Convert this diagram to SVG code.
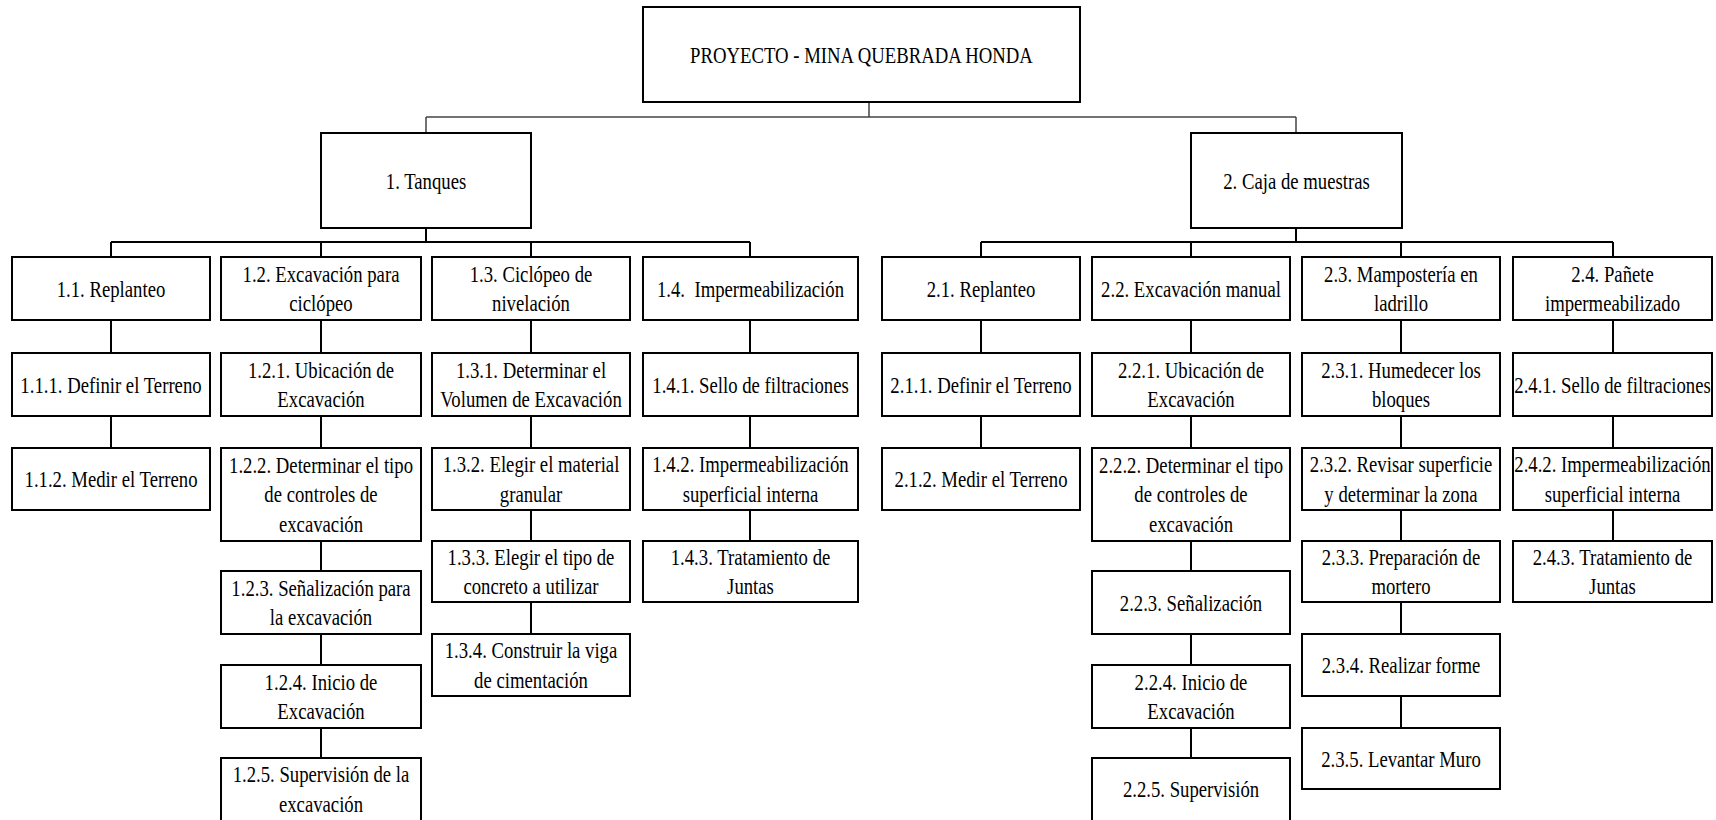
<svg xmlns="http://www.w3.org/2000/svg" width="1716" height="820" viewBox="0 0 1716 820">
  <style>
    .box { fill: #fff; stroke: #000; stroke-width: 2; }
    .lbl { font-family: "Liberation Serif", "Times New Roman", serif; font-size: 24px; fill: #000; text-anchor: middle; }
    .wire { stroke: #000; stroke-width: 2; fill: none; }
    .bus { stroke: #444; stroke-width: 1.5; fill: none; }
  </style>
  <rect width="1716" height="820" fill="#fff"/>

  <!-- connectors -->
  <g id="connectors">
    <path class="bus" d="M869 102V117 M426 117H1296 M426 117V133 M1296 117V133"/>
    <!-- 1. Tanques branch -->
    <path class="wire" d="M426 228V242 M111 242H750 M111 242V257 M321 242V257 M531 242V257 M750 242V257"/>
    <!-- 2. Caja de muestras branch -->
    <path class="wire" d="M1296 228V242 M981 242H1613 M981 242V257 M1191 242V257 M1401 242V257 M1613 242V257"/>
    <!-- column 1.1 -->
    <path class="wire" d="M111 320V353 M111 416V448"/>
    <!-- column 1.2 -->
    <path class="wire" d="M321 320V353 M321 416V448 M321 541V571 M321 634V665 M321 728V758"/>
    <!-- column 1.3 -->
    <path class="wire" d="M531 320V353 M531 416V448 M531 510V541 M531 602V634"/>
    <!-- column 1.4 -->
    <path class="wire" d="M750 320V353 M750 416V448 M750 510V541"/>
    <!-- column 2.1 -->
    <path class="wire" d="M981 320V353 M981 416V448"/>
    <!-- column 2.2 -->
    <path class="wire" d="M1191 320V353 M1191 416V448 M1191 541V571 M1191 634V665 M1191 728V758"/>
    <!-- column 2.3 -->
    <path class="wire" d="M1401 320V353 M1401 416V448 M1401 510V541 M1401 602V634 M1401 696V728"/>
    <!-- column 2.4 -->
    <path class="wire" d="M1613 320V353 M1613 416V448 M1613 510V541"/>
  </g>

  <!-- root -->
  <g id="n-root">
    <rect class="box" x="643" y="7" width="437" height="95"/>
    <text class="lbl" transform="translate(861.5,63) scale(0.78,1)">PROYECTO - MINA QUEBRADA HONDA</text>
  </g>

  <!-- level 1 -->
  <g id="n-1">
    <rect class="box" x="321" y="133" width="210" height="95"/>
    <text class="lbl" transform="translate(426,188.5) scale(0.78,1)">1. Tanques</text>
  </g>
  <g id="n-2">
    <rect class="box" x="1191" y="133" width="211" height="95"/>
    <text class="lbl" transform="translate(1296.5,188.5) scale(0.78,1)">2. Caja de muestras</text>
  </g>

  <!-- 1.1 Replanteo -->
  <g id="n-1-1">
    <rect class="box" x="12" y="257" width="198" height="63"/>
    <text class="lbl" transform="translate(111,296.5) scale(0.78,1)">1.1. Replanteo</text>
  </g>
  <g id="n-1-1-1">
    <rect class="box" x="12" y="353" width="198" height="63"/>
    <text class="lbl" transform="translate(111,392.5) scale(0.78,1)">1.1.1. Definir el Terreno</text>
  </g>
  <g id="n-1-1-2">
    <rect class="box" x="12" y="448" width="198" height="62"/>
    <text class="lbl" transform="translate(111,487) scale(0.78,1)">1.1.2. Medir el Terreno</text>
  </g>

  <!-- 1.2 Excavación para ciclópeo -->
  <g id="n-1-2">
    <rect class="box" x="221" y="257" width="200" height="63"/>
    <text class="lbl" transform="translate(321,281.5) scale(0.78,1)"><tspan x="0">1.2. Excavación para</tspan><tspan x="0" dy="30">ciclópeo</tspan></text>
  </g>
  <g id="n-1-2-1">
    <rect class="box" x="221" y="353" width="200" height="63"/>
    <text class="lbl" transform="translate(321,377.5) scale(0.78,1)"><tspan x="0">1.2.1. Ubicación de</tspan><tspan x="0" dy="30">Excavación</tspan></text>
  </g>
  <g id="n-1-2-2">
    <rect class="box" x="221" y="448" width="200" height="93"/>
    <text class="lbl" transform="translate(321,472.5) scale(0.78,1)"><tspan x="0">1.2.2. Determinar el tipo</tspan><tspan x="0" dy="30">de controles de</tspan><tspan x="0" dy="30">excavación</tspan></text>
  </g>
  <g id="n-1-2-3">
    <rect class="box" x="221" y="571" width="200" height="63"/>
    <text class="lbl" transform="translate(321,595.5) scale(0.78,1)"><tspan x="0">1.2.3. Señalización para</tspan><tspan x="0" dy="30">la excavación</tspan></text>
  </g>
  <g id="n-1-2-4">
    <rect class="box" x="221" y="665" width="200" height="63"/>
    <text class="lbl" transform="translate(321,689.5) scale(0.78,1)"><tspan x="0">1.2.4. Inicio de</tspan><tspan x="0" dy="30">Excavación</tspan></text>
  </g>
  <g id="n-1-2-5">
    <rect class="box" x="221" y="758" width="200" height="66"/>
    <text class="lbl" transform="translate(321,782) scale(0.78,1)"><tspan x="0">1.2.5. Supervisión de la</tspan><tspan x="0" dy="30">excavación</tspan></text>
  </g>

  <!-- 1.3 Ciclópeo de nivelación -->
  <g id="n-1-3">
    <rect class="box" x="432" y="257" width="198" height="63"/>
    <text class="lbl" transform="translate(531,281.5) scale(0.78,1)"><tspan x="0">1.3. Ciclópeo de</tspan><tspan x="0" dy="30">nivelación</tspan></text>
  </g>
  <g id="n-1-3-1">
    <rect class="box" x="432" y="353" width="198" height="63"/>
    <text class="lbl" transform="translate(531,377.5) scale(0.78,1)"><tspan x="0">1.3.1. Determinar el</tspan><tspan x="0" dy="30">Volumen de Excavación</tspan></text>
  </g>
  <g id="n-1-3-2">
    <rect class="box" x="432" y="448" width="198" height="62"/>
    <text class="lbl" transform="translate(531,472) scale(0.78,1)"><tspan x="0">1.3.2. Elegir el material</tspan><tspan x="0" dy="30">granular</tspan></text>
  </g>
  <g id="n-1-3-3">
    <rect class="box" x="432" y="541" width="198" height="61"/>
    <text class="lbl" transform="translate(531,564.5) scale(0.78,1)"><tspan x="0">1.3.3. Elegir el tipo de</tspan><tspan x="0" dy="30">concreto a utilizar</tspan></text>
  </g>
  <g id="n-1-3-4">
    <rect class="box" x="432" y="634" width="198" height="62"/>
    <text class="lbl" transform="translate(531,658) scale(0.78,1)"><tspan x="0">1.3.4. Construir la viga</tspan><tspan x="0" dy="30">de cimentación</tspan></text>
  </g>

  <!-- 1.4 Impermeabilización -->
  <g id="n-1-4">
    <rect class="box" x="643" y="257" width="215" height="63"/>
    <text class="lbl" xml:space="preserve" transform="translate(750.5,296.5) scale(0.78,1)">1.4.  Impermeabilización</text>
  </g>
  <g id="n-1-4-1">
    <rect class="box" x="643" y="353" width="215" height="63"/>
    <text class="lbl" transform="translate(750.5,392.5) scale(0.78,1)">1.4.1. Sello de filtraciones</text>
  </g>
  <g id="n-1-4-2">
    <rect class="box" x="643" y="448" width="215" height="62"/>
    <text class="lbl" transform="translate(750.5,472) scale(0.78,1)"><tspan x="0">1.4.2. Impermeabilización</tspan><tspan x="0" dy="30">superficial interna</tspan></text>
  </g>
  <g id="n-1-4-3">
    <rect class="box" x="643" y="541" width="215" height="61"/>
    <text class="lbl" transform="translate(750.5,564.5) scale(0.78,1)"><tspan x="0">1.4.3. Tratamiento de</tspan><tspan x="0" dy="30">Juntas</tspan></text>
  </g>

  <!-- 2.1 Replanteo -->
  <g id="n-2-1">
    <rect class="box" x="882" y="257" width="198" height="63"/>
    <text class="lbl" transform="translate(981,296.5) scale(0.78,1)">2.1. Replanteo</text>
  </g>
  <g id="n-2-1-1">
    <rect class="box" x="882" y="353" width="198" height="63"/>
    <text class="lbl" transform="translate(981,392.5) scale(0.78,1)">2.1.1. Definir el Terreno</text>
  </g>
  <g id="n-2-1-2">
    <rect class="box" x="882" y="448" width="198" height="62"/>
    <text class="lbl" transform="translate(981,487) scale(0.78,1)">2.1.2. Medir el Terreno</text>
  </g>

  <!-- 2.2 Excavación manual -->
  <g id="n-2-2">
    <rect class="box" x="1092" y="257" width="198" height="63"/>
    <text class="lbl" transform="translate(1191,296.5) scale(0.78,1)">2.2. Excavación manual</text>
  </g>
  <g id="n-2-2-1">
    <rect class="box" x="1092" y="353" width="198" height="63"/>
    <text class="lbl" transform="translate(1191,377.5) scale(0.78,1)"><tspan x="0">2.2.1. Ubicación de</tspan><tspan x="0" dy="30">Excavación</tspan></text>
  </g>
  <g id="n-2-2-2">
    <rect class="box" x="1092" y="448" width="198" height="93"/>
    <text class="lbl" transform="translate(1191,472.5) scale(0.78,1)"><tspan x="0">2.2.2. Determinar el tipo</tspan><tspan x="0" dy="30">de controles de</tspan><tspan x="0" dy="30">excavación</tspan></text>
  </g>
  <g id="n-2-2-3">
    <rect class="box" x="1092" y="571" width="198" height="63"/>
    <text class="lbl" transform="translate(1191,610.5) scale(0.78,1)">2.2.3. Señalización</text>
  </g>
  <g id="n-2-2-4">
    <rect class="box" x="1092" y="665" width="198" height="63"/>
    <text class="lbl" transform="translate(1191,689.5) scale(0.78,1)"><tspan x="0">2.2.4. Inicio de</tspan><tspan x="0" dy="30">Excavación</tspan></text>
  </g>
  <g id="n-2-2-5">
    <rect class="box" x="1092" y="758" width="198" height="66"/>
    <text class="lbl" transform="translate(1191,797) scale(0.78,1)">2.2.5. Supervisión</text>
  </g>

  <!-- 2.3 Mampostería en ladrillo -->
  <g id="n-2-3">
    <rect class="box" x="1302" y="257" width="198" height="63"/>
    <text class="lbl" transform="translate(1401,281.5) scale(0.78,1)"><tspan x="0">2.3. Mampostería en</tspan><tspan x="0" dy="30">ladrillo</tspan></text>
  </g>
  <g id="n-2-3-1">
    <rect class="box" x="1302" y="353" width="198" height="63"/>
    <text class="lbl" transform="translate(1401,377.5) scale(0.78,1)"><tspan x="0">2.3.1. Humedecer los</tspan><tspan x="0" dy="30">bloques</tspan></text>
  </g>
  <g id="n-2-3-2">
    <rect class="box" x="1302" y="448" width="198" height="62"/>
    <text class="lbl" transform="translate(1401,472) scale(0.78,1)"><tspan x="0">2.3.2. Revisar superficie</tspan><tspan x="0" dy="30">y determinar la zona</tspan></text>
  </g>
  <g id="n-2-3-3">
    <rect class="box" x="1302" y="541" width="198" height="61"/>
    <text class="lbl" transform="translate(1401,564.5) scale(0.78,1)"><tspan x="0">2.3.3. Preparación de</tspan><tspan x="0" dy="30">mortero</tspan></text>
  </g>
  <g id="n-2-3-4">
    <rect class="box" x="1302" y="634" width="198" height="62"/>
    <text class="lbl" transform="translate(1401,673) scale(0.78,1)">2.3.4. Realizar forme</text>
  </g>
  <g id="n-2-3-5">
    <rect class="box" x="1302" y="728" width="198" height="61"/>
    <text class="lbl" transform="translate(1401,766.5) scale(0.78,1)">2.3.5. Levantar Muro</text>
  </g>

  <!-- 2.4 Pañete impermeabilizado -->
  <g id="n-2-4">
    <rect class="box" x="1513" y="257" width="199" height="63"/>
    <text class="lbl" transform="translate(1612.5,281.5) scale(0.78,1)"><tspan x="0">2.4. Pañete</tspan><tspan x="0" dy="30">impermeabilizado</tspan></text>
  </g>
  <g id="n-2-4-1">
    <rect class="box" x="1513" y="353" width="199" height="63"/>
    <text class="lbl" transform="translate(1612.5,392.5) scale(0.78,1)">2.4.1. Sello de filtraciones</text>
  </g>
  <g id="n-2-4-2">
    <rect class="box" x="1513" y="448" width="199" height="62"/>
    <text class="lbl" transform="translate(1612.5,472) scale(0.78,1)"><tspan x="0">2.4.2. Impermeabilización</tspan><tspan x="0" dy="30">superficial interna</tspan></text>
  </g>
  <g id="n-2-4-3">
    <rect class="box" x="1513" y="541" width="199" height="61"/>
    <text class="lbl" transform="translate(1612.5,564.5) scale(0.78,1)"><tspan x="0">2.4.3. Tratamiento de</tspan><tspan x="0" dy="30">Juntas</tspan></text>
  </g>
</svg>
